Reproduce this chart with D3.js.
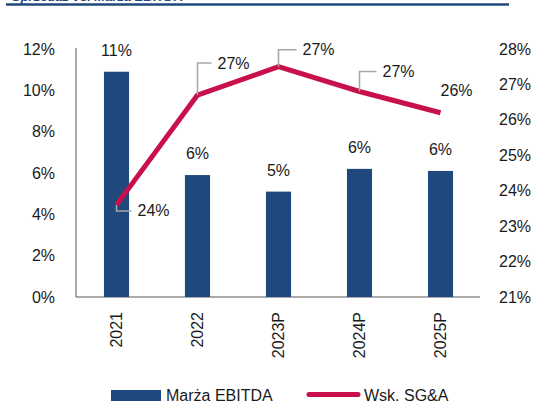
<!DOCTYPE html>
<html>
<head>
<meta charset="utf-8">
<script src="https://cdn.jsdelivr.net/npm/d3@7"></script>
<style>
  html, body { margin: 0; padding: 0; background: #fff; }
  svg { display: block; font-family: "Liberation Sans", Arial, sans-serif; }
</style>
</head>
<body>
<svg width="535" height="405"></svg>
<script>
// data
const years = ["2021", "2022", "2023P", "2024P", "2025P"];
const ebitdaMargin = [10.9, 5.9, 5.1, 6.2, 6.1];     // Marża EBITDA, %
const sgaRatio = [23.6, 26.7, 27.5, 26.8, 26.2];     // Wsk. SG&A, %
const ebitdaLabels = ["11%", "6%", "5%", "6%", "6%"];
const sgaLabels = ["24%", "27%", "27%", "27%", "26%"];
const leftTicks = [0, 2, 4, 6, 8, 10, 12];
const rightTicks = [21, 22, 23, 24, 25, 26, 27, 28];

// label placement for the line (leader elbow dy, leader end dx, text dx)
const sgaLabelPos = [
  {dy: 6, hx: 15, tx: 21, leader: true},
  {dy: -32, hx: 14, tx: 20, leader: true},
  {dy: -17, hx: 18, tx: 24, leader: true},
  {dy: -20, hx: 17, tx: 23, leader: true},
  {dy: -22, hx: 0, tx: 0, leader: false}
];

const barColor = "#1f497d";
const lineColor = "#c8104b";
const textColor = "#1a1a1a";

const svg = d3.select("svg");

// title (mostly above the frame, as in the source) and rule at the top
svg.append("text")
    .attr("x", 12).attr("y", 0.5)
    .attr("font-size", 13).attr("font-weight", "bold").attr("font-style", "italic")
    .attr("fill", barColor)
    .text("Sprzedaż vs. Marża EBITDA");
svg.append("line")
    .attr("x1", 6).attr("x2", 509).attr("y1", 4.5).attr("y2", 4.5)
    .attr("stroke", barColor).attr("stroke-width", 2.5);

const x = d3.scaleBand()
    .domain(years)
    .range([76, 481])
    .paddingInner(0.69)
    .paddingOuter(0.345);

const yL = d3.scaleLinear().domain([0, 12]).range([297, 49]);
const yR = d3.scaleLinear().domain([21, 28]).range([297, 49]);

// axes
const leftAxis = svg.append("g")
    .attr("transform", "translate(76,0)")
    .call(d3.axisLeft(yL).tickValues(leftTicks).tickSize(0).tickPadding(21)
      .tickFormat(d => d + "%"));
leftAxis.select(".domain").attr("stroke", "#595959").attr("d", "M0,48V297");

const rightAxis = svg.append("g")
    .attr("transform", "translate(481,0)")
    .call(d3.axisRight(yR).tickValues(rightTicks).tickSize(0).tickPadding(18)
      .tickFormat(d => d + "%"));
rightAxis.select(".domain").remove();

const bottomAxis = svg.append("g")
    .attr("transform", "translate(0,297)")
    .call(d3.axisBottom(x).tickSize(0).tickPadding(0));
bottomAxis.select(".domain").attr("stroke", "#595959").attr("d", "M76,0H480");
bottomAxis.selectAll("text")
    .attr("transform", "translate(0,15) rotate(-90)")
    .attr("text-anchor", "end")
    .attr("y", 0).attr("x", 0)
    .attr("dy", "0.35em");

svg.selectAll(".tick text")
    .attr("font-size", 16)
    .attr("font-family", "Liberation Sans, Arial, sans-serif")
    .attr("fill", textColor);

// bars
svg.append("g")
  .selectAll("rect")
  .data(ebitdaMargin)
  .join("rect")
    .attr("x", (d, i) => x(years[i]))
    .attr("y", d => yL(d))
    .attr("width", x.bandwidth())
    .attr("height", d => yL(0) - yL(d))
    .attr("fill", barColor);

svg.append("g")
  .selectAll("text")
  .data(ebitdaMargin)
  .join("text")
    .attr("x", (d, i) => x(years[i]) + x.bandwidth() / 2)
    .attr("y", d => yL(d) - 16)
    .attr("text-anchor", "middle")
    .attr("font-size", 16)
    .attr("fill", textColor)
    .text((d, i) => ebitdaLabels[i]);

// line
const cx = i => x(years[i]) + x.bandwidth() / 2;
const line = d3.line()
    .x((d, i) => cx(i))
    .y(d => yR(d));

svg.append("path")
    .datum(sgaRatio)
    .attr("fill", "none")
    .attr("stroke", lineColor)
    .attr("stroke-width", 5)
    .attr("stroke-linejoin", "round")
    .attr("d", line);

// leaders and labels
const lbl = svg.append("g");
sgaRatio.forEach((d, i) => {
  const px = cx(i), py = yR(d), p = sgaLabelPos[i];
  if (p.leader) {
    lbl.append("path")
        .attr("d", `M${px},${py}V${py + p.dy}H${px + p.hx}`)
        .attr("fill", "none")
        .attr("stroke", "#a6a6a6")
        .attr("stroke-width", 1.5);
  }
  lbl.append("text")
      .attr("x", px + p.tx)
      .attr("y", py + p.dy)
      .attr("dy", "0.35em")
      .attr("font-size", 16)
      .attr("fill", textColor)
      .text(sgaLabels[i]);
});

// legend
const legend = svg.append("g").attr("font-size", 16).attr("fill", textColor);
legend.append("rect")
    .attr("x", 111).attr("y", 390).attr("width", 50).attr("height", 11)
    .attr("fill", barColor);
legend.append("text").attr("x", 166).attr("y", 401).text("Marża EBITDA");
legend.append("line")
    .attr("x1", 309).attr("x2", 358).attr("y1", 394.5).attr("y2", 394.5)
    .attr("stroke", lineColor).attr("stroke-width", 5).attr("stroke-linecap", "round");
legend.append("text").attr("x", 364).attr("y", 401).text("Wsk. SG&A");
</script>
</body>
</html>
